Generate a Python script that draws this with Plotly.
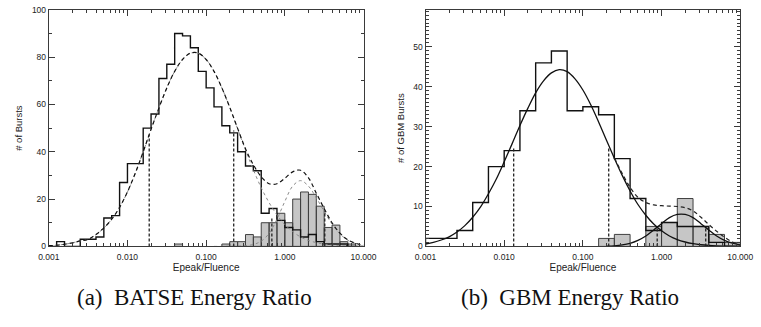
import plotly.graph_objects as go

# ---------------- BATSE panel (a) ----------------
# histogram bin edges (log10 of Epeak/Fluence)
batse_edges_log = [-3.0, -2.9, -2.8, -2.7, -2.6, -2.5, -2.4, -2.3, -2.2, -2.1,
                   -2.0, -1.9, -1.8, -1.7, -1.6, -1.5, -1.4, -1.3, -1.2, -1.1,
                   -1.0, -0.9, -0.8, -0.7, -0.6, -0.5, -0.4, -0.3, -0.2, -0.1,
                   0.0, 0.1, 0.2, 0.3, 0.4, 0.5, 0.6, 0.7, 0.8, 0.9, 1.0]
batse_open_counts = [0, 2, 0, 0, 3, 3, 4, 12, 13, 27,
                     35, 35, 50, 56, 71, 77, 90, 89, 84, 74,
                     67, 59, 51, 48, 40, 34, 32, 14, 16, 11,
                     8, 7, 4, 5, 2, 1, 1, 1, 0, 0]
batse_gray_counts = [0, 0, 0, 0, 0, 0, 0, 0, 0, 0,
                     0, 0, 0, 0, 0, 0, 1, 0, 0, 0,
                     0, 0, 1, 2, 2, 5, 4, 10, 10, 14,
                     10, 20, 23, 22, 17, 8, 9, 2, 1, 0]
# fitted curves sampled at log10 positions
batse_curve_log = [-3.0, -2.9, -2.8, -2.7, -2.6, -2.5, -2.4, -2.3, -2.2, -2.1,
                   -2.0, -1.9, -1.8, -1.7, -1.6, -1.5, -1.4, -1.3, -1.2, -1.1,
                   -1.0, -0.9, -0.8, -0.7, -0.6, -0.5, -0.4, -0.3, -0.2, -0.1,
                   0.0, 0.1, 0.2, 0.3, 0.4, 0.5, 0.6, 0.7, 0.8, 0.9, 1.0]
batse_total_fit = [0.3, 0.5, 0.9, 1.5, 2.3, 3.0, 5.0, 7.8, 11.5, 16.5,
                   23.0, 31.0, 40.0, 49.5, 58.5, 67.0, 74.0, 79.0, 81.7, 81.7,
                   79.0, 74.0, 67.0, 58.8, 49.9, 41.3, 34.5, 29.5, 26.5, 26.5,
                   28.8, 31.5, 32.2, 29.0, 22.5, 16.0, 10.0, 5.6, 2.8, 1.3, 0.5]
batse_comp1_fit = [0.3, 0.5, 0.9, 1.5, 2.3, 3.0, 5.0, 7.8, 11.5, 16.5,
                   23.0, 31.0, 40.0, 49.5, 58.5, 67.0, 74.0, 79.0, 81.7, 81.7,
                   79.0, 74.0, 67.0, 58.7, 49.7, 40.8, 32.4, 24.8, 18.5, 13.3,
                   9.2, 6.2, 4.0, 2.5, 1.6, 0.9, 0.5, 0.3, 0.15, 0.07, 0.03]
batse_comp2_log = [-0.9, -0.8, -0.7, -0.6, -0.5, -0.4, -0.3, -0.2, -0.1,
                   0.0, 0.1, 0.2, 0.3, 0.4, 0.5, 0.6, 0.7, 0.8, 0.9, 1.0]
batse_comp2_fit = [0.0, 0.0, 0.05, 0.1, 0.3, 0.8, 2.2, 5.5, 11.5,
                   19.0, 25.5, 27.8, 25.5, 20.5, 14.8, 9.4, 5.3, 2.6, 1.2, 0.5]
batse_vline_x = [0.0189, 0.224, 0.684, 3.22]
batse_vline_top = [47, 49, 12, 15]

# ---------------- GBM panel (b) ----------------
gbm_edges_log = [-3.0, -2.8, -2.6, -2.4, -2.2, -2.0, -1.8, -1.6, -1.4, -1.2,
                 -1.0, -0.8, -0.6, -0.4, -0.2, 0.0, 0.2, 0.4, 0.6, 0.8, 1.0]
gbm_open_counts = [2, 2, 4, 11, 20, 24, 34, 46, 49, 34,
                   35, 33, 22, 12, 4, 6, 5, 5, 1, 0]
gbm_gray_counts = [0, 0, 0, 0, 0, 0, 0, 0, 0, 0,
                   0, 2, 3, 0, 5, 6, 12, 5, 3, 1]
gbm_curve_log = batse_curve_log
gbm_comp1_fit = [0.6, 1.0, 1.6, 2.4, 3.6, 5.2, 7.3, 9.9, 13.2, 16.9,
                 21.2, 25.7, 30.3, 34.6, 38.5, 41.5, 43.5, 44.3, 43.8, 42.0,
                 39.2, 35.5, 31.2, 26.6, 22.1, 17.8, 13.9, 10.5, 7.8, 5.6,
                 3.9, 2.6, 1.7, 1.1, 0.68, 0.41, 0.24, 0.14, 0.08, 0.04, 0.02]
gbm_comp2_log = [-0.7, -0.6, -0.5, -0.4, -0.3, -0.2, -0.1, 0.0, 0.1,
                 0.2, 0.3, 0.4, 0.5, 0.6, 0.7, 0.8, 0.9, 1.0]
gbm_comp2_fit = [0.05, 0.15, 0.36, 0.77, 1.5, 2.6, 4.1, 5.7, 7.2,
                 8.0, 8.0, 7.2, 5.7, 4.1, 2.6, 1.5, 0.8, 0.36]
gbm_total_log = [-0.6, -0.5, -0.4, -0.3, -0.2, -0.1, 0.0, 0.1, 0.2,
                 0.3, 0.4, 0.5, 0.6, 0.7, 0.8, 0.9, 1.0]
gbm_total_fit = [22.2, 18.3, 14.8, 12.3, 11.0, 10.4, 10.2, 10.1, 10.0,
                 9.7, 8.9, 7.3, 5.5, 3.8, 2.3, 1.1, 0.4]
gbm_vline_x = [0.0132, 0.213, 0.88, 3.64]
gbm_vline_top = [25, 25, 5, 5]

x_tickvals = [0.001, 0.01, 0.1, 1, 10]
x_ticktext_a = ["0.001", "0.010", "0.100", "1.000", "10.000"]
x_ticktext_b = ["0.001", "0.010", "0.100", "1.000", "10.000"]
captions = ["(a)  BATSE Energy Ratio", "(b)  GBM Energy Ratio"]

AX = "#3a3a3a"
GRAYFILL = "#c6c6c6"


def p10(v):
    return [10 ** e for e in v]


def open_step(edges, counts):
    xs = [edges[0]] + list(edges[:-1]) + [edges[-1]]
    ys = [0] + list(counts) + [0]
    return p10(xs), ys


def gray_bars(edges, counts):
    xs, ys = [], []
    for lo, hi, c in zip(edges[:-1], edges[1:], counts):
        if c > 0:
            xs += [10 ** lo, 10 ** lo, 10 ** hi, 10 ** hi, 10 ** lo, None]
            ys += [0, c, c, 0, 0, None]
    return xs, ys


def vlines(xv, tops):
    xs, ys = [], []
    for x, t in zip(xv, tops):
        xs += [x, x, None]
        ys += [0, t, None]
    return xs, ys


fig = go.Figure()

# ---- panel a ----
gx, gy = gray_bars(batse_edges_log, batse_gray_counts)
fig.add_trace(go.Scatter(x=gx, y=gy, fill="toself", fillcolor=GRAYFILL, mode="lines",
                         line=dict(color="#404040", width=1), xaxis="x", yaxis="y"))
ox, oy = open_step(batse_edges_log, batse_open_counts)
fig.add_trace(go.Scatter(x=ox, y=oy, mode="lines", line=dict(color="#111", width=1.4, shape="hv"),
                         xaxis="x", yaxis="y"))
fig.add_trace(go.Scatter(x=p10(batse_curve_log), y=batse_comp1_fit, mode="lines",
                         line=dict(color="#8a8a8a", width=1, dash="dot", shape="spline"),
                         xaxis="x", yaxis="y"))
fig.add_trace(go.Scatter(x=p10(batse_comp2_log), y=batse_comp2_fit, mode="lines",
                         line=dict(color="#8a8a8a", width=1, dash="dot", shape="spline"),
                         xaxis="x", yaxis="y"))
fig.add_trace(go.Scatter(x=p10(batse_curve_log), y=batse_total_fit, mode="lines",
                         line=dict(color="#111", width=1.2, dash="4px,3px", shape="spline"),
                         xaxis="x", yaxis="y"))
vx, vy = vlines(batse_vline_x, batse_vline_top)
fig.add_trace(go.Scatter(x=vx, y=vy, mode="lines", line=dict(color="#222", width=1.3, dash="3px,2px"),
                         xaxis="x", yaxis="y"))

# ---- panel b ----
gx, gy = gray_bars(gbm_edges_log, gbm_gray_counts)
fig.add_trace(go.Scatter(x=gx, y=gy, fill="toself", fillcolor=GRAYFILL, mode="lines",
                         line=dict(color="#404040", width=1), xaxis="x2", yaxis="y2"))
ox, oy = open_step(gbm_edges_log, gbm_open_counts)
fig.add_trace(go.Scatter(x=ox, y=oy, mode="lines", line=dict(color="#111", width=1.4, shape="hv"),
                         xaxis="x2", yaxis="y2"))
fig.add_trace(go.Scatter(x=p10(gbm_curve_log), y=gbm_comp1_fit, mode="lines",
                         line=dict(color="#111", width=1.3, shape="spline"), xaxis="x2", yaxis="y2"))
fig.add_trace(go.Scatter(x=p10(gbm_comp2_log), y=gbm_comp2_fit, mode="lines",
                         line=dict(color="#111", width=1.3, shape="spline"), xaxis="x2", yaxis="y2"))
fig.add_trace(go.Scatter(x=p10(gbm_total_log), y=gbm_total_fit, mode="lines",
                         line=dict(color="#222", width=1.2, dash="4px,3px", shape="spline"),
                         xaxis="x2", yaxis="y2"))
vx, vy = vlines(gbm_vline_x, gbm_vline_top)
fig.add_trace(go.Scatter(x=vx, y=vy, mode="lines", line=dict(color="#222", width=1.3, dash="3px,2px"),
                         xaxis="x2", yaxis="y2"))

W, H = 761, 327
TICKFONT = dict(family="Liberation Sans Narrow, Liberation Sans, Arial, sans-serif", size=8.5, color="#222")


def xaxis(domain, ticktext, anchor):
    return dict(type="log", range=[-3, 1], domain=domain, anchor=anchor,
                tickvals=x_tickvals, ticktext=ticktext, ticks="inside", ticklen=6,
                tickcolor=AX, tickwidth=1, showline=True, linecolor=AX, linewidth=1,
                mirror="allticks", showgrid=False, zeroline=False,
                minor=dict(ticks="inside", ticklen=3, tickcolor=AX, dtick="D1", showgrid=False),
                tickfont=TICKFONT, ticklabelstandoff=2, ticklabeloverflow="allow",
                title=dict(text="Epeak/Fluence", standoff=0,
                           font=dict(family="Liberation Sans, Arial, sans-serif", size=10, color="#222")))


def yaxis(domain, rng, tickvals, minor_dtick, title, anchor):
    return dict(range=rng, domain=domain, anchor=anchor, tickvals=tickvals,
                ticks="inside", ticklen=6, tickcolor=AX, tickwidth=1, showline=True,
                linecolor=AX, linewidth=1, mirror="allticks", showgrid=False, zeroline=False,
                minor=dict(ticks="inside", ticklen=3, tickcolor=AX, dtick=minor_dtick, showgrid=False),
                tickfont=dict(family="Liberation Sans, Arial, sans-serif", size=8.5, color="#222"),
                ticklabeloverflow="allow",
                title=dict(text=title, standoff=7,
                           font=dict(family="Liberation Sans, Arial, sans-serif", size=9.5, color="#222")))


ybot = (H - 249) / H
ytop = (H - 5) / H
fig.update_layout(
    width=W, height=H, margin=dict(l=0, r=0, t=0, b=0),
    paper_bgcolor="white", plot_bgcolor="white", showlegend=False,
    xaxis=xaxis([39 / W, 364 / W], x_ticktext_a, "y"),
    yaxis=yaxis([ybot, ytop], [0, 100], [0, 20, 40, 60, 80, 100], 10, "# of Bursts", "x"),
    xaxis2=xaxis([428 / W, 753 / W], x_ticktext_b, "y2"),
    yaxis2=yaxis([ybot, ytop], [0, 59.3], [0, 10, 20, 30, 40, 50], 1, "# of GBM Bursts", "x2"),
    annotations=[
        dict(text=captions[0], x=189 / W, y=(H - 302) / H, xref="paper", yref="paper",
             showarrow=False, xanchor="center", yanchor="middle",
             font=dict(family="Liberation Serif, Times New Roman, serif", size=23, color="#111")),
        dict(text=captions[1], x=577 / W, y=(H - 302) / H, xref="paper", yref="paper",
             showarrow=False, xanchor="center", yanchor="middle",
             font=dict(family="Liberation Serif, Times New Roman, serif", size=23, color="#111")),
    ],
)

fig.write_html("out.html")
